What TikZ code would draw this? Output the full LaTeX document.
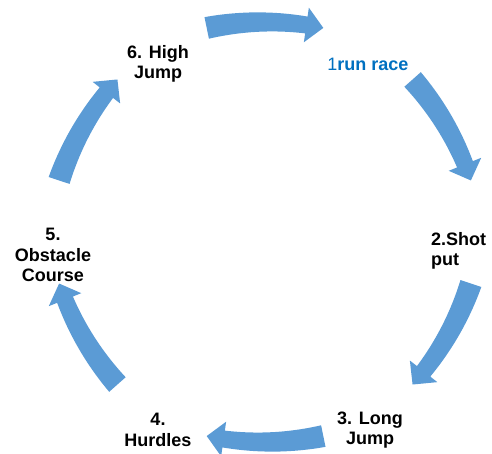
\documentclass[tikz,border=0pt]{standalone}
\usepackage{fontspec}
\setmainfont{Liberation Sans}
\definecolor{arrowblue}{HTML}{5B9BD5}
\definecolor{textblue}{HTML}{0070C0}
\tikzset{
  lbl/.style={font=\bfseries\fontsize{18}{20.5}\selectfont, align=center, inner sep=0pt, text=black},
  blockarrow/.style={fill=arrowblue, draw=none}
}
% #1 = mid angle of the arrow on the ring (clockwise arrow)
\newcommand{\cyclearrow}[1]{%
  \pgfmathsetmacro{\tA}{#1+11.6}%
  \pgfmathsetmacro{\bA}{#1-11.6+3.4}%
  \pgfmathsetmacro{\pA}{#1-11.6}%
  \begin{scope}[shift={(c)}, shift={(#1+180:80)}]
    \fill[blockarrow]
      plot[domain=\tA:\bA, samples=24] ({\x}:{290+8.5+2.5*(\x-\bA)/(\tA-\bA)})
      -- (\bA:307.5) -- (\pA:290) -- (\bA:272.5)
      -- plot[domain=\bA:\tA, samples=24] ({\x}:{290-8.5-2.5*(\x-\bA)/(\tA-\bA)})
      -- cycle;
  \end{scope}%
}
\begin{document}
\begin{tikzpicture}[x=1pt,y=1pt]
\useasboundingbox (0,0) rectangle (492,454);
\coordinate (c) at (265,222);
\cyclearrow{90}
\cyclearrow{30}
\cyclearrow{-30}
\cyclearrow{-90}
\cyclearrow{-150}
\cyclearrow{150}
\node[lbl, text=textblue] (n1) at (368,390) {{\mdseries 1}run race};
\node[lbl, anchor=west, align=left] (n2) at (431,203) {2.Shot\\put};
\node[lbl] (n3) at (370,24) {3. Long\\Jump};
\node[lbl] (n4) at (158,24) {4.\\Hurdles};
\node[lbl] (n5) at (53,199) {5.\\Obstacle\\Course};
\node[lbl] (n6) at (158,390) {6. High\\Jump};
\end{tikzpicture}
\end{document}
